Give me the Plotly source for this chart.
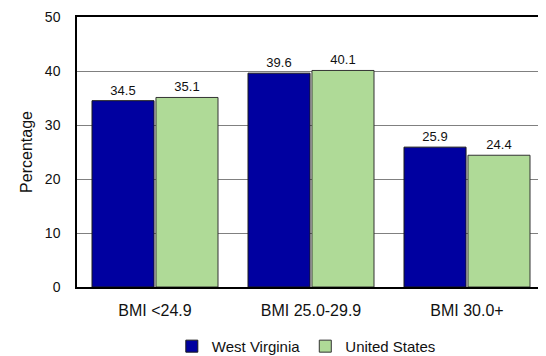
import plotly.graph_objects as go

categories = ["BMI <24.9", "BMI 25.0-29.9", "BMI 30.0+"]
west_virginia = [34.5, 39.6, 25.9]
united_states = [35.1, 40.1, 24.4]
y_ticks = [0, 10, 20, 30, 40, 50]

fig = go.Figure()
fig.add_trace(go.Bar(
    x=categories, y=west_virginia, name="West Virginia",
    marker=dict(color="#0000A0", line=dict(color="#1a1a1a", width=1)),
    text=[f"{v:.1f}" for v in west_virginia], textposition="outside",
    textfont=dict(size=13, color="#111111"), cliponaxis=False,
))
fig.add_trace(go.Bar(
    x=categories, y=united_states, name="United States",
    marker=dict(color="#AFDA97", line=dict(color="#333333", width=1)),
    text=[f"{v:.1f}" for v in united_states], textposition="outside",
    textfont=dict(size=13, color="#111111"), cliponaxis=False,
))

# the page body adds an 8px margin, so the figure is a bit smaller than the window
fig.update_layout(
    width=538, height=348,
    margin=dict(l=69, r=1, t=9, b=69, autoexpand=False),
    paper_bgcolor="white", plot_bgcolor="white",
    font=dict(family="Liberation Sans, Arial", size=15, color="#111111"),
    barmode="group", bargap=0.18, bargroupgap=0.03,
    showlegend=True,
    legend=dict(orientation="h", x=0.49, xanchor="center", y=-0.22, yanchor="middle",
                font=dict(size=15), itemwidth=30, tracegroupgap=0),
    uniformtext=dict(minsize=13, mode="show"),
    shapes=[dict(type="line", xref="paper", yref="paper", x0=1, x1=1, y0=0, y1=1,
                 line=dict(color="#808080", width=1))],
)
fig.update_yaxes(
    range=[0, 50], tickvals=y_ticks, showgrid=True, gridcolor="#808080", gridwidth=1,
    showline=True, linecolor="#000000", linewidth=1.5, mirror=False,
    ticks="", ticklabelstandoff=12, automargin=False,
    tickfont=dict(size=14),
    title=dict(text="Percentage", standoff=8, font=dict(size=16)), zeroline=False,
)
fig.update_xaxes(
    showline=True, linecolor="#000000", linewidth=1.5, mirror=True,
    ticks="", ticklabelstandoff=8, automargin=False, tickfont=dict(size=16),
)

fig.write_html("out.html")
